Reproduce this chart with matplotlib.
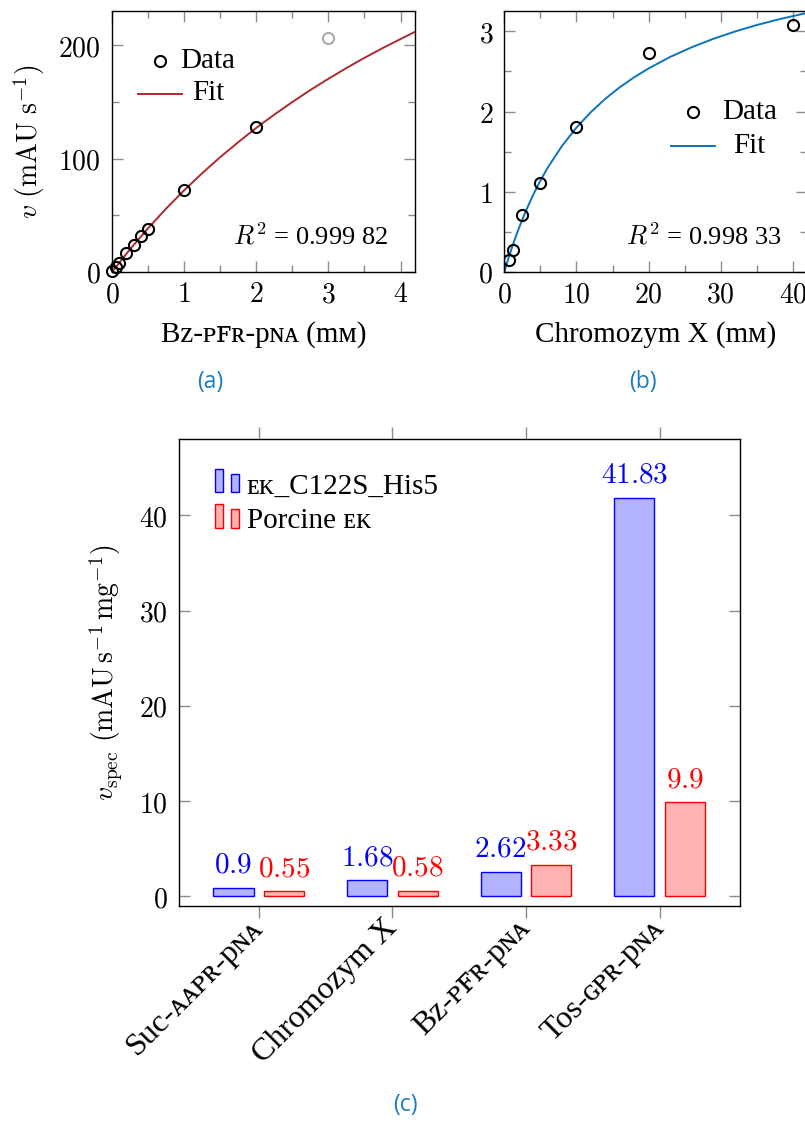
import matplotlib
matplotlib.use('Agg')
import matplotlib.pyplot as plt
from matplotlib.ticker import FuncFormatter, FixedLocator
from matplotlib.patches import Rectangle
from matplotlib.lines import Line2D

plt.rcParams['mathtext.fontset'] = 'cm'
SERIF = ['Liberation Serif', 'DejaVu Serif', 'DejaVu Sans']

# ---------------- data ----------------
# (a) Bz-PFR-pNA
bz_conc = [0, 0.05, 0.1, 0.2, 0.3, 0.4, 0.5, 1, 2]
bz_rate = [0.5, 4.5, 8, 17, 24, 31.5, 38, 72.5, 127.5]
bz_outlier_conc = [3]
bz_outlier_rate = [206.5]
bz_fit_conc = [0, 0.25, 0.5, 0.75, 1, 1.25, 1.5, 1.75, 2, 2.25, 2.5, 2.75,
               3, 3.25, 3.5, 3.75, 4, 4.2]
bz_fit_rate = [0, 20.0, 38.6, 55.9, 72.0, 87.1, 101.3, 114.5, 127.1, 138.8,
               149.9, 160.5, 170.4, 179.9, 188.9, 197.4, 205.5, 211.8]
bz_r2 = '0.999 82'

# (b) Chromozym X
cx_conc = [0.625, 1.25, 2.5, 5, 10, 20, 40]
cx_rate = [0.143, 0.275, 0.71, 1.11, 1.805, 2.734, 3.084]
cx_fit_conc = [0, 0.5, 1, 1.5, 2, 3, 4, 5, 6, 8, 10, 12, 14, 16, 18, 20,
               23, 26, 29, 32, 35, 38, 42]
cx_fit_rate = [0, 0.150, 0.289, 0.419, 0.542, 0.764, 0.962, 1.139, 1.298,
               1.572, 1.800, 1.993, 2.159, 2.302, 2.427, 2.537, 2.681,
               2.802, 2.907, 2.998, 3.078, 3.148, 3.230]
cx_r2 = '0.998 33'

# (c) specific activity
substrates = ['Suc-\u1d00\u1d00\u1d18\u0280-p\u0274\u1d00', 'Chromozym X',
              'Bz-\u1d18\ua730\u0280-p\u0274\u1d00', 'Tos-\u0262\u1d18\u0280-p\u0274\u1d00']
ek_c122s = [0.9, 1.68, 2.62, 41.83]
porcine_ek = [0.55, 0.58, 3.33, 9.9]
series_names = ['\u1d07\u1d0b_C122S_His5', 'Porcine \u1d07\u1d0b']

# ---------------- style ----------------
TICKC = '#8c8c8c'
NUM_FS = 20
LAB_FS = 21
FIT_A = '#b0292e'
FIT_B = '#0b74bd'
CAP_C = '#1a7cc0'

fmt = FuncFormatter(lambda v, p: f'${v:g}$')

fig = plt.figure(figsize=(8.05, 11.22), dpi=100)


def style_scatter_axes(ax):
    ax.tick_params(which='both', direction='in', top=True, right=True,
                   color=TICKC, width=1.0, labelsize=NUM_FS)
    ax.tick_params(which='major', length=8)
    ax.tick_params(which='minor', length=5)
    ax.tick_params(axis='x', pad=6)
    ax.tick_params(axis='y', pad=8)
    ax.xaxis.set_major_formatter(fmt)
    ax.yaxis.set_major_formatter(fmt)
    for s in ax.spines.values():
        s.set_linewidth(1.0)
        s.set_color('black')


# ---- (a) ----
axa = fig.add_axes([0.1391, 0.7576, 0.3764, 0.2324])
axa.plot(bz_fit_conc, bz_fit_rate, color=FIT_A, lw=1.4, zorder=2)
axa.plot(bz_conc, bz_rate, 'o', mfc='none', mec='black', ms=8, mew=1.5, zorder=3,
         clip_on=False)
axa.plot(bz_outlier_conc, bz_outlier_rate, 'o', mfc='none', mec='#aaaaaa', ms=8,
         mew=1.5, zorder=3)
axa.set_xlim(0, 4.2)
axa.set_ylim(0, 230)
axa.xaxis.set_major_locator(FixedLocator([0, 1, 2, 3, 4]))
axa.xaxis.set_minor_locator(FixedLocator([0.5, 1.5, 2.5, 3.5]))
axa.yaxis.set_major_locator(FixedLocator([0, 100, 200]))
axa.yaxis.set_minor_locator(FixedLocator([50, 150]))
style_scatter_axes(axa)
axa.set_xlabel('Bz-\u1d18\ua730\u0280-p\u0274\u1d00 (m\u1d0d)', fontsize=LAB_FS,
               family=SERIF, labelpad=9)
axa.set_ylabel(r'$v\ (\mathrm{mAU\ s^{-1}})$', fontsize=20, labelpad=8)
# legend
axa.add_line(Line2D([0.1584], [0.8105], transform=axa.transAxes, marker='o',
                    mfc='none', mec='black', ms=8, mew=1.5, ls='none'))
axa.text(0.317, 0.7814, 'Data', transform=axa.transAxes, ha='center',
         va='baseline', fontsize=21, family=SERIF)
axa.add_line(Line2D([0.0845, 0.2317], [0.684, 0.684], transform=axa.transAxes,
                    color=FIT_A, lw=1.4))
axa.text(0.317, 0.66, 'Fit', transform=axa.transAxes, ha='center',
         va='baseline', fontsize=21, family=SERIF)
axa.text(0.911, 0.1036, r'$R^2$ = ' + bz_r2, transform=axa.transAxes,
         ha='right', va='baseline', fontsize=19, family=SERIF)

# ---- (b) ----
axb = fig.add_axes([0.6265, 0.7576, 0.3764, 0.2324])
axb.plot(cx_fit_conc, cx_fit_rate, color=FIT_B, lw=1.4, zorder=2)
axb.plot(cx_conc, cx_rate, 'o', mfc='none', mec='black', ms=8, mew=1.5, zorder=3)
axb.set_xlim(0, 42)
axb.set_ylim(0, 3.25)
axb.xaxis.set_major_locator(FixedLocator([0, 10, 20, 30, 40]))
axb.xaxis.set_minor_locator(FixedLocator([5, 15, 25, 35]))
axb.yaxis.set_major_locator(FixedLocator([0, 1, 2, 3]))
axb.yaxis.set_minor_locator(FixedLocator([0.5, 1.5, 2.5]))
style_scatter_axes(axb)
axb.set_xlabel('Chromozym X (m\u1d0d)', fontsize=LAB_FS, family=SERIF, labelpad=9)
axb.add_line(Line2D([0.6218], [0.6126], transform=axb.transAxes, marker='o',
                    mfc='none', mec='black', ms=8, mew=1.5, ls='none'))
axb.text(0.810, 0.5857, 'Data', transform=axb.transAxes, ha='center',
         va='baseline', fontsize=21, family=SERIF)
axb.add_line(Line2D([0.549, 0.695], [0.4833, 0.4833], transform=axb.transAxes,
                    color=FIT_B, lw=1.4))
axb.text(0.809, 0.455, 'Fit', transform=axb.transAxes, ha='center',
         va='baseline', fontsize=21, family=SERIF)
axb.text(0.913, 0.1036, r'$R^2$ = ' + cx_r2, transform=axb.transAxes,
         ha='right', va='baseline', fontsize=19, family=SERIF)

# ---- (c) ----
axc = fig.add_axes([0.2220, 0.1925, 0.6969, 0.4162])
pos = list(range(len(substrates)))
bw = 0.30
off = 0.19
blue_face, blue_edge = '#b3b3ff', '#0000ff'
red_face, red_edge = '#ffb3b3', '#ff0000'
b1 = axc.bar([p - off for p in pos], ek_c122s, width=bw, color=blue_face,
             edgecolor=blue_edge, linewidth=1.0)
b2 = axc.bar([p + off for p in pos], porcine_ek, width=bw, color=red_face,
             edgecolor=red_edge, linewidth=1.0)
for bars, vals, col in ((b1, ek_c122s, blue_edge), (b2, porcine_ek, red_edge)):
    for r, v in zip(bars, vals):
        axc.annotate(f'${v:g}$', (r.get_x() + r.get_width() / 2, v),
                     xytext=(0, 6.5), textcoords='offset points', ha='center',
                     va='bottom', color=col, fontsize=21)
axc.set_xlim(-0.6, 3.6)
axc.set_ylim(-1, 48)
axc.set_xticks(pos)
axc.set_xticklabels(substrates, rotation=45, ha='right', va='center',
                    rotation_mode='anchor', fontsize=23, family=SERIF)
axc.yaxis.set_major_locator(FixedLocator([0, 10, 20, 30, 40]))
axc.yaxis.set_major_formatter(fmt)
axc.tick_params(axis='x', direction='out', top=True, bottom=True, length=8.5,
                color=TICKC, width=1.0, pad=4)
axc.tick_params(axis='y', direction='in', left=True, right=True, length=8,
                color=TICKC, width=1.0, labelsize=NUM_FS, pad=8)
for s in axc.spines.values():
    s.set_linewidth(1.0)
    s.set_color('black')
axc.set_ylabel(r'$v_{\mathrm{spec}}\ (\mathrm{mAU\,s^{-1}\,mg^{-1}})$',
               fontsize=LAB_FS - 1, labelpad=10)
# legend
for (x0, x1, y0, y1), fc, ec in (
        ((0.0647, 0.0795, 0.8865, 0.9358), blue_face, blue_edge),
        ((0.0938, 0.1080, 0.8865, 0.9244), blue_face, blue_edge),
        ((0.0647, 0.0795, 0.8100, 0.8610), red_face, red_edge),
        ((0.0938, 0.1080, 0.8100, 0.8500), red_face, red_edge)):
    axc.add_patch(Rectangle((x0, y0), x1 - x0, y1 - y0, transform=axc.transAxes,
                            facecolor=fc, edgecolor=ec, lw=1.0))
axc.text(0.121, 0.882, series_names[0], transform=axc.transAxes, ha='left',
         va='baseline', fontsize=21, family=SERIF)
axc.text(0.121, 0.809, series_names[1], transform=axc.transAxes, ha='left',
         va='baseline', fontsize=21, family=SERIF)

# captions
fig.text(210 / 805, 1 - 382 / 1122, '(a)', ha='center', va='center',
         color=CAP_C, fontsize=16.5, family='Open Sans')
fig.text(643 / 805, 1 - 382 / 1122, '(b)', ha='center', va='center',
         color=CAP_C, fontsize=16.5, family='Open Sans')
fig.text(405 / 805, 1 - 1105 / 1122, '(c)', ha='center', va='center',
         color=CAP_C, fontsize=16.5, family='Open Sans')

fig.savefig('out.png', dpi=100)
